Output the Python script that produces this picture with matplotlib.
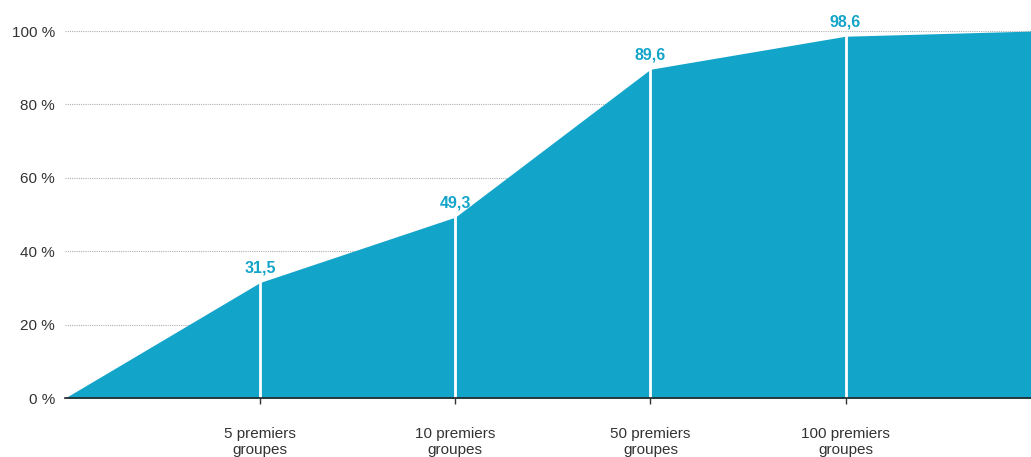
import matplotlib.pyplot as plt

plt.rcParams['font.family'] = ['Liberation Sans', 'DejaVu Sans']

# cumulative share, French formatting for the labels
positions = [0, 1, 2, 3, 4, 4.95]
shares = [0, 31.5, 49.3, 89.6, 98.6, 100]
categories = ["5 premiers\ngroupes", "10 premiers\ngroupes",
              "50 premiers\ngroupes", "100 premiers\ngroupes"]
cat_pos = [1, 2, 3, 4]
cat_values = [31.5, 49.3, 89.6, 98.6]
yticks = [0, 20, 40, 60, 80, 100]

blue = '#13a4ca'

fig = plt.figure(figsize=(10.31, 4.57), dpi=100)
ax = fig.add_axes([0.063, 0.129, 0.937, 0.803])

ax.fill_between(positions, shares, 0, color=blue, linewidth=0, zorder=2)

for x, v in zip(cat_pos, cat_values):
    ax.plot([x, x], [0, v], color='white', linewidth=2, zorder=3)
    ax.text(x, v + 1.8, f"{v:.1f}".replace('.', ','), ha='center', va='bottom',
            color=blue, fontsize=11.5, fontweight='bold', clip_on=False)

ax.set_xlim(0, 4.95)
ax.set_ylim(0, 100)
ax.set_yticks(yticks)
ax.set_yticklabels([f"{t} %" for t in yticks])
ax.set_xticks(cat_pos)
ax.set_xticklabels(categories, linespacing=1.15)

ax.yaxis.grid(True, linestyle=(0, (1, 1)), color='#b0b0b0', linewidth=0.8, zorder=1)
ax.set_axisbelow(True)

for side in ['top', 'right', 'left']:
    ax.spines[side].set_visible(False)
ax.spines['bottom'].set_color('#222222')
ax.spines['bottom'].set_linewidth(1.2)
ax.spines['bottom'].set_zorder(4)

ax.tick_params(axis='y', length=0, pad=7, labelsize=11, labelcolor='#333333')
ax.tick_params(axis='x', length=4, width=1, color='#333333', pad=17,
               labelsize=11, labelcolor='#333333')

plt.savefig("out.png", dpi=100)
